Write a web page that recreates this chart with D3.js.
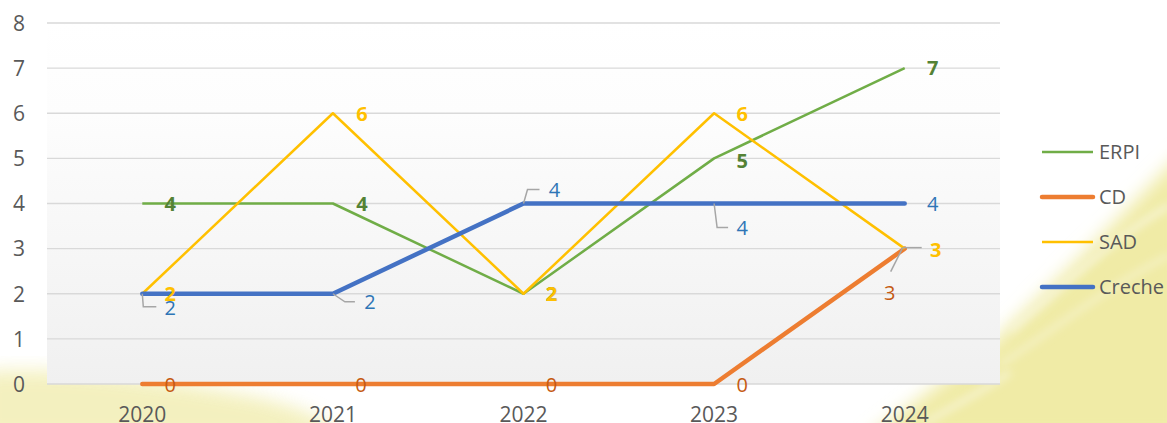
<!DOCTYPE html>
<html>
<head>
<meta charset="utf-8">
<script src="https://cdn.jsdelivr.net/npm/d3@7"></script>
<style>
  html, body { margin: 0; padding: 0; background: #ffffff; }
  svg { display: block; font-family: "Open Sans", "Noto Sans", sans-serif; }
</style>
</head>
<body>
<svg id="chart" width="1167" height="423"></svg>
<script>
// ---- data ----
const years = ["2020", "2021", "2022", "2023", "2024"];
const seriesNames = ["ERPI", "CD", "SAD", "Creche"];
const erpi   = [4, 4, 2, 5, 7];
const cd     = [0, 0, 0, 0, 3];
const sad    = [2, 6, 2, 6, 3];
const creche = [2, 2, 4, 4, 4];
const yTicks = [0, 1, 2, 3, 4, 5, 6, 7, 8];

// ---- styles ----
const W = 1167, H = 423;
const margin = { left: 47, right: 167, top: 23, bottom: 39 };
const styles = {
  ERPI:   { color: "#70ad47", width: 2.5, label: "#548235", weight: "bold" },
  CD:     { color: "#ed7d31", width: 4.5, label: "#c55a11", weight: "normal" },
  SAD:    { color: "#ffc000", width: 2.5, label: "#ffc000", weight: "bold" },
  Creche: { color: "#4472c4", width: 4.5, label: "#2e75b6", weight: "normal" }
};
// label placement (pixel offsets from point); leader = polyline offsets
const labelPlace = {
  ERPI:   [{dx:28,dy:0},{dx:29,dy:0},{dx:28,dy:0},{dx:28,dy:2},{dx:28,dy:0}],
  CD:     [{dx:28,dy:1},{dx:28,dy:1},{dx:28,dy:1},{dx:28,dy:1},{dx:-15,dy:44,leader:[[-2,-1],[-14,23]]}],
  SAD:    [{dx:28,dy:0},{dx:29,dy:1},{dx:28,dy:0},{dx:28,dy:1},{dx:31,dy:1,leader:[[-2,-1],[17,-1]]}],
  Creche: [{dx:28,dy:14,leader:[[0,0],[1,13],[14,13]]},
           {dx:37,dy:8,leader:[[0,0],[12,8],[22,8]]},
           {dx:31,dy:-14,leader:[[0,0],[4,-14],[16,-14]]},
           {dx:28,dy:24,leader:[[0,0],[3,24],[14,24]]},
           {dx:28,dy:0}]
};

const data = { ERPI: erpi, CD: cd, SAD: sad, Creche: creche };

const svg = d3.select("#chart");
const defs = svg.append("defs");

// background decoration (yellow textured image approximation)
const blur = defs.append("filter").attr("id", "blur").attr("x", "-20%").attr("y", "-20%").attr("width", "140%").attr("height", "140%");
blur.append("feGaussianBlur").attr("stdDeviation", 9);
const blur2 = defs.append("filter").attr("id", "blur2");
blur2.append("feGaussianBlur").attr("stdDeviation", 4);

const bg = svg.append("g");
bg.append("path")
  .attr("d", "M865,440 L990,345 L1080,258 L1185,150 L1185,440 Z")
  .attr("fill", "#f0eba6").attr("filter", "url(#blur)");
bg.append("path")
  .attr("d", "M-20,440 L-20,372 C60,366 150,378 240,394 C300,405 330,420 345,440 Z")
  .attr("fill", "#f2eeb4").attr("opacity", 0.85).attr("filter", "url(#blur)");
// lighter streaks
bg.append("path")
  .attr("d", "M1010,330 C1060,290 1110,240 1170,205")
  .attr("stroke", "#f8f6dc").attr("stroke-width", 5).attr("fill", "none").attr("filter", "url(#blur2)");
bg.append("path")
  .attr("d", "M1000,365 C1060,325 1110,285 1170,255")
  .attr("stroke", "#f6f3d0").attr("stroke-width", 4).attr("fill", "none").attr("filter", "url(#blur2)");
bg.append("path")
  .attr("d", "M925,423 C960,402 990,387 1010,372")
  .attr("stroke", "#f7f4d6").attr("stroke-width", 5).attr("fill", "none").attr("filter", "url(#blur2)");

// scales
const x = d3.scaleBand().domain(years).range([margin.left, W - margin.right]);
const cx = d => x(d) + x.bandwidth() / 2;
const y = d3.scaleLinear().domain([0, 8]).range([H - margin.bottom, margin.top]);

// plot area gradient
const grad = defs.append("linearGradient").attr("id", "plotGrad")
  .attr("x1", 0).attr("y1", 0).attr("x2", 0).attr("y2", 1);
grad.append("stop").attr("offset", "0%").attr("stop-color", "#ffffff");
grad.append("stop").attr("offset", "25%").attr("stop-color", "#fdfdfd");
grad.append("stop").attr("offset", "100%").attr("stop-color", "#f0f0f0");
svg.append("rect")
  .attr("x", margin.left).attr("y", y(8))
  .attr("width", W - margin.right - margin.left).attr("height", y(0) - y(8))
  .attr("fill", "url(#plotGrad)");

// gridlines
svg.append("g").selectAll("line").data(yTicks).join("line")
  .attr("x1", margin.left).attr("x2", W - margin.right)
  .attr("y1", d => y(d)).attr("y2", d => y(d))
  .attr("stroke", "#d9d9d9").attr("stroke-width", 1.3);

// y axis labels
const yAxis = d3.axisLeft(y).tickValues(yTicks).tickSize(0).tickPadding(0).tickFormat(d3.format("d"));
const gy = svg.append("g").attr("transform", "translate(25,0)").call(yAxis);
gy.select(".domain").remove();
gy.selectAll("text").attr("font-size", 21).attr("fill", "#595959")
  .attr("font-family", "Open Sans, sans-serif").attr("dy", "0.35em");

// x axis labels
const xAxis = d3.axisBottom(x).tickSize(0).tickPadding(0);
const gx = svg.append("g").attr("transform", `translate(0,${y(0)})`).call(xAxis);
gx.select(".domain").remove();
gx.selectAll("text").attr("font-size", 21).attr("fill", "#595959")
  .attr("font-family", "Open Sans, sans-serif").attr("dy", null).attr("y", 38);

// lines
const line = d3.line().x((d, i) => cx(years[i])).y(d => y(d));
const linesG = svg.append("g");
seriesNames.forEach(name => {
  linesG.append("path")
    .datum(data[name])
    .attr("d", line)
    .attr("fill", "none")
    .attr("stroke", styles[name].color)
    .attr("stroke-width", styles[name].width)
    .attr("stroke-linejoin", "round")
    .attr("stroke-linecap", styles[name].width > 3 ? "round" : "butt");
});

// leaders + labels
const labG = svg.append("g");
seriesNames.forEach(name => {
  data[name].forEach((v, i) => {
    const px = cx(years[i]), py = y(v);
    const p = labelPlace[name][i];
    if (p.leader) {
      labG.append("polyline")
        .attr("points", p.leader.map(o => [px + o[0], py + o[1]].join(",")).join(" "))
        .attr("fill", "none").attr("stroke", "#a6a6a6").attr("stroke-width", 1.5);
    }
    labG.append("text")
      .attr("x", px + p.dx).attr("y", py + p.dy)
      .attr("dy", "0.36em")
      .attr("text-anchor", "middle")
      .attr("font-size", 20)
      .attr("font-weight", styles[name].weight)
      .attr("fill", styles[name].label)
      .text(v);
  });
});

// legend
const leg = svg.append("g");
const legY = d3.scalePoint().domain(seriesNames).range([152, 287]);
seriesNames.forEach(name => {
  const s = styles[name];
  const thick = s.width > 3;
  leg.append("line")
    .attr("x1", 1042).attr("x2", 1093)
    .attr("y1", legY(name)).attr("y2", legY(name))
    .attr("stroke", s.color).attr("stroke-width", s.width)
    .attr("stroke-linecap", thick ? "round" : "butt");
  leg.append("text")
    .attr("x", 1099).attr("y", legY(name)).attr("dy", "0.36em")
    .attr("font-size", 20).attr("fill", "#595959")
    .text(name);
});
</script>
</body>
</html>
